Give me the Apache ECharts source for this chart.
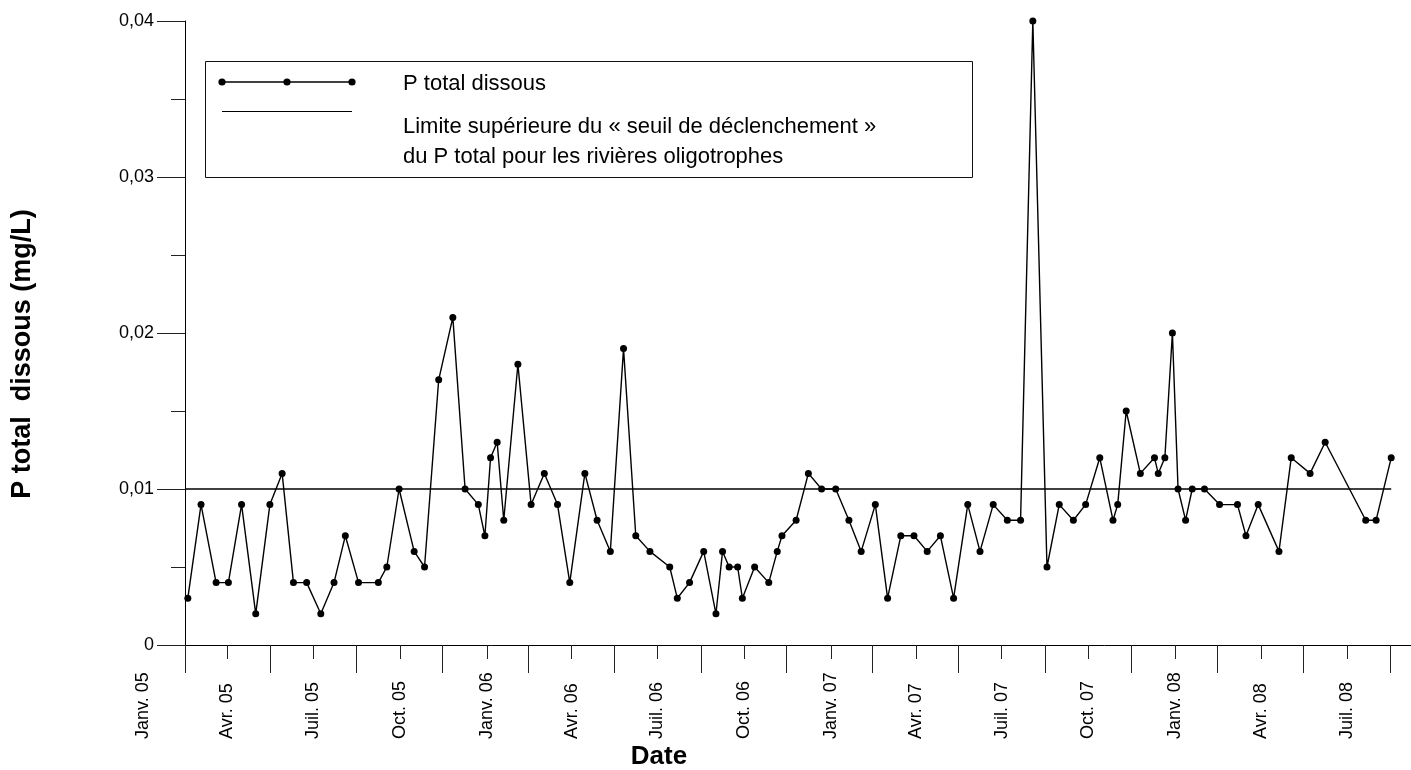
<!DOCTYPE html>
<html lang="fr">
<head>
<meta charset="utf-8">
<title>P total dissous</title>
<script src="https://cdn.jsdelivr.net/npm/echarts@6/dist/echarts.min.js"></script>
<style>
  html, body { margin: 0; padding: 0; background: #fff; }
  #chart { width: 1411px; height: 770px; }
</style>
</head>
<body>
<div id="chart"></div>
<script>
// Sampling dates and measured dissolved total phosphorus (mg/L)
const sampleDates = [
  '2005-02-18','2005-03-04','2005-03-20','2005-04-02','2005-04-16','2005-05-01','2005-05-16','2005-05-29',
  '2005-06-10','2005-06-24','2005-07-09','2005-07-23','2005-08-04','2005-08-18','2005-09-08','2005-09-17',
  '2005-09-30','2005-10-16','2005-10-27','2005-11-11','2005-11-26','2005-12-09','2005-12-23','2005-12-30',
  '2006-01-05','2006-01-12','2006-01-19','2006-02-03','2006-02-17','2006-03-03','2006-03-17','2006-03-30',
  '2006-04-15','2006-04-28','2006-05-12','2006-05-26','2006-06-08','2006-06-23','2006-07-14','2006-07-22',
  '2006-08-04','2006-08-19','2006-09-01','2006-09-08','2006-09-15','2006-09-24','2006-09-29','2006-10-12',
  '2006-10-27','2006-11-05','2006-11-10','2006-11-25','2006-12-08','2006-12-22',
  '2007-01-06','2007-01-20','2007-02-02','2007-02-17','2007-03-02','2007-03-16','2007-03-30','2007-04-13',
  '2007-04-27','2007-05-11','2007-05-26','2007-06-08','2007-06-22','2007-07-07','2007-07-21','2007-08-03',
  '2007-08-18','2007-08-31','2007-09-15','2007-09-28','2007-10-13','2007-10-27','2007-11-01','2007-11-10',
  '2007-11-25','2007-12-10','2007-12-14','2007-12-21','2007-12-29',
  '2008-01-04','2008-01-12','2008-01-19','2008-02-01','2008-02-17','2008-03-07','2008-03-16','2008-03-29',
  '2008-04-20','2008-05-03','2008-05-23','2008-06-08','2008-07-21','2008-08-01','2008-08-17'
];
const pTotalDissous = [
  0.003, 0.009, 0.004, 0.004, 0.009, 0.002, 0.009, 0.011,
  0.004, 0.004, 0.002, 0.004, 0.007, 0.004, 0.004, 0.005,
  0.010, 0.006, 0.005, 0.017, 0.021, 0.010, 0.009, 0.007,
  0.012, 0.013, 0.008, 0.018, 0.009, 0.011, 0.009, 0.004,
  0.011, 0.008, 0.006, 0.019, 0.007, 0.006, 0.005, 0.003,
  0.004, 0.006, 0.002, 0.006, 0.005, 0.005, 0.003, 0.005,
  0.004, 0.006, 0.007, 0.008, 0.011, 0.010,
  0.010, 0.008, 0.006, 0.009, 0.003, 0.007, 0.007, 0.006,
  0.007, 0.003, 0.009, 0.006, 0.009, 0.008, 0.008, 0.040,
  0.005, 0.009, 0.008, 0.009, 0.012, 0.008, 0.009, 0.015,
  0.011, 0.012, 0.011, 0.012, 0.020,
  0.010, 0.008, 0.010, 0.010, 0.009, 0.009, 0.007, 0.009,
  0.006, 0.012, 0.011, 0.013, 0.008, 0.008, 0.012
];

// Upper limit of the total P trigger range for oligotrophic rivers
const thresholdValue = 0.01;
const thresholdDates = ['2005-02-15', '2008-08-17'];

// Date axis: extent, quarter labels and the longer mid-quarter ticks
const axisRange = ['2005-02-15', '2008-09-07'];
const quarterDates = [
  '2005-01-01','2005-04-01','2005-07-01','2005-10-01','2006-01-01','2006-04-01','2006-07-01','2006-10-01',
  '2007-01-01','2007-04-01','2007-07-01','2007-10-01','2008-01-01','2008-04-01','2008-07-01'
];
const quarterLabels = [
  'Janv. 05','Avr. 05','Juil. 05','Oct. 05','Janv. 06','Avr. 06','Juil. 06','Oct. 06',
  'Janv. 07','Avr. 07','Juil. 07','Oct. 07','Janv. 08','Avr. 08','Juil. 08'
];
const midQuarterDates = [
  '2005-02-15','2005-05-16','2005-08-16','2005-11-15','2006-02-14','2006-05-16','2006-08-16','2006-11-15',
  '2007-02-14','2007-05-16','2007-08-16','2007-11-15','2008-02-15','2008-05-16','2008-08-16'
];

// Concentration axis
const yMin = 0, yMax = 0.04, yStep = 0.01;

// Legend entries
const legendSeries = 'P total dissous';
const legendThreshold = ['Limite supérieure du « seuil de déclenchement »', 'du P total pour les rivières oligotrophes'];

const FONT = '"Liberation Sans", Arial, Helvetica, sans-serif';
const INK = '#000';
const TICK = '#222';

// Dates are placed on a linear axis as UTC timestamps
const t = s => Date.UTC(+s.slice(0, 4), +s.slice(5, 7) - 1, +s.slice(8, 10));
const xMin = t(axisRange[0]);
const xMax = t(axisRange[1]);

const labelByTime = {};
quarterDates.forEach((d, i) => { labelByTime[t(d)] = quarterLabels[i]; });
const quarterTimes = quarterDates.map(t);
const visibleQuarterTimes = quarterTimes.filter(v => v >= xMin && v <= xMax);
const hiddenQuarterTimes = quarterTimes.filter(v => v < xMin);

const LABEL_MARGIN = 94;

const chart = echarts.init(document.getElementById('chart'), null, { renderer: 'canvas' });

chart.setOption({
  animation: false,
  backgroundColor: '#fff',
  grid: { left: 185, right: 0, top: 21, bottom: 125, containLabel: false, outerBoundsMode: 'none' },
  xAxis: [
    {
      type: 'value', min: xMin, max: xMax, position: 'bottom', scale: true,
      axisLine: { show: true, onZero: false, lineStyle: { color: INK, width: 1 } },
      axisTick: { show: true, length: 28, customValues: midQuarterDates.map(t), lineStyle: { color: TICK, width: 1 } },
      axisLabel: { show: false },
      splitLine: { show: false },
      name: 'Date', nameLocation: 'middle', nameGap: 112,
      nameTextStyle: {
        fontFamily: FONT, fontSize: 26, fontWeight: 'bold', color: INK,
        align: 'center', verticalAlign: 'middle', padding: [0, 278, 0, 0]
      }
    },
    {
      type: 'value', min: xMin, max: xMax, position: 'bottom', scale: true,
      axisLine: { show: false },
      axisTick: { show: true, length: 14, customValues: visibleQuarterTimes, lineStyle: { color: TICK, width: 1 } },
      axisLabel: {
        show: true, customValues: visibleQuarterTimes, rotate: 90, margin: LABEL_MARGIN,
        formatter: v => labelByTime[v] || '',
        fontFamily: FONT, fontSize: 18, color: INK,
        align: 'left', verticalAlign: 'middle', padding: [0, 0, 10, 0]
      },
      splitLine: { show: false }
    }
  ],
  yAxis: {
    type: 'value', min: yMin, max: yMax, interval: yStep, position: 'left',
    axisLine: { show: true, onZero: false, lineStyle: { color: INK, width: 1 } },
    axisTick: { show: true, length: 28, lineStyle: { color: TICK, width: 1 } },
    minorTick: { show: true, splitNumber: 2, length: 14, lineStyle: { color: TICK, width: 1 } },
    axisLabel: {
      margin: 31, fontFamily: FONT, fontSize: 18, color: INK,
      formatter: v => (v === 0 ? '0' : v.toFixed(2).replace('.', ','))
    },
    splitLine: { show: false },
    minorSplitLine: { show: false },
    name: 'P total  dissous (mg/L)', nameLocation: 'middle', nameRotate: 90, nameGap: 162,
    nameTextStyle: {
      fontFamily: FONT, fontSize: 27, fontWeight: 'bold', color: INK,
      align: 'center', verticalAlign: 'middle', padding: [0, 42, 0, 0]
    }
  },
  series: [
    {
      name: legendSeries, type: 'line', xAxisIndex: 0, yAxisIndex: 0,
      data: sampleDates.map((d, i) => [t(d), pTotalDissous[i]]),
      symbol: 'circle', symbolSize: 7, showAllSymbol: true, clip: false,
      itemStyle: { color: INK },
      lineStyle: { color: INK, width: 1.4 },
      emphasis: { disabled: true }, z: 3
    },
    {
      name: legendThreshold.join(' '), type: 'line', xAxisIndex: 0, yAxisIndex: 0,
      data: thresholdDates.map(d => [t(d), thresholdValue]),
      symbol: 'none', clip: false,
      lineStyle: { color: INK, width: 1.4 },
      emphasis: { disabled: true }, z: 2
    }
  ]
});

// Legend box and the quarter label that falls before the first tick
const axisY = chart.convertToPixel({ yAxisIndex: 0 }, yMin);
const graphics = [
  { type: 'rect', shape: { x: 205.5, y: 61.5, width: 767, height: 116 },
    style: { fill: '#fff', stroke: '#111', lineWidth: 1 }, z: 10 },
  { type: 'line', shape: { x1: 222, y1: 82, x2: 352, y2: 82 }, style: { stroke: INK, lineWidth: 1.4 }, z: 11 },
  { type: 'circle', shape: { cx: 222, cy: 82, r: 3.6 }, style: { fill: INK }, z: 12 },
  { type: 'circle', shape: { cx: 287, cy: 82, r: 3.6 }, style: { fill: INK }, z: 12 },
  { type: 'circle', shape: { cx: 352, cy: 82, r: 3.6 }, style: { fill: INK }, z: 12 },
  { type: 'line', shape: { x1: 222, y1: 111.5, x2: 352, y2: 111.5 }, style: { stroke: INK, lineWidth: 1 }, z: 11 },
  { type: 'text', x: 403, y: 84.4, z: 11,
    style: { text: legendSeries, font: `22px ${FONT}`, fill: INK, align: 'left', verticalAlign: 'middle' } },
  { type: 'text', x: 403, y: 127.4, z: 11,
    style: { text: legendThreshold[0], font: `22px ${FONT}`, fill: INK, align: 'left', verticalAlign: 'middle' } },
  { type: 'text', x: 403, y: 157.4, z: 11,
    style: { text: legendThreshold[1], font: `22px ${FONT}`, fill: INK, align: 'left', verticalAlign: 'middle' } }
];
hiddenQuarterTimes.forEach(v => {
  const px = chart.convertToPixel({ xAxisIndex: 1 }, v);
  graphics.push({
    type: 'text', x: px, y: axisY + LABEL_MARGIN, rotation: Math.PI / 2, z: 5,
    style: {
      text: labelByTime[v], font: `18px ${FONT}`, fill: INK,
      align: 'left', verticalAlign: 'middle', padding: [0, 0, 10, 0]
    }
  });
});
chart.setOption({ graphic: graphics });
</script>
</body>
</html>
